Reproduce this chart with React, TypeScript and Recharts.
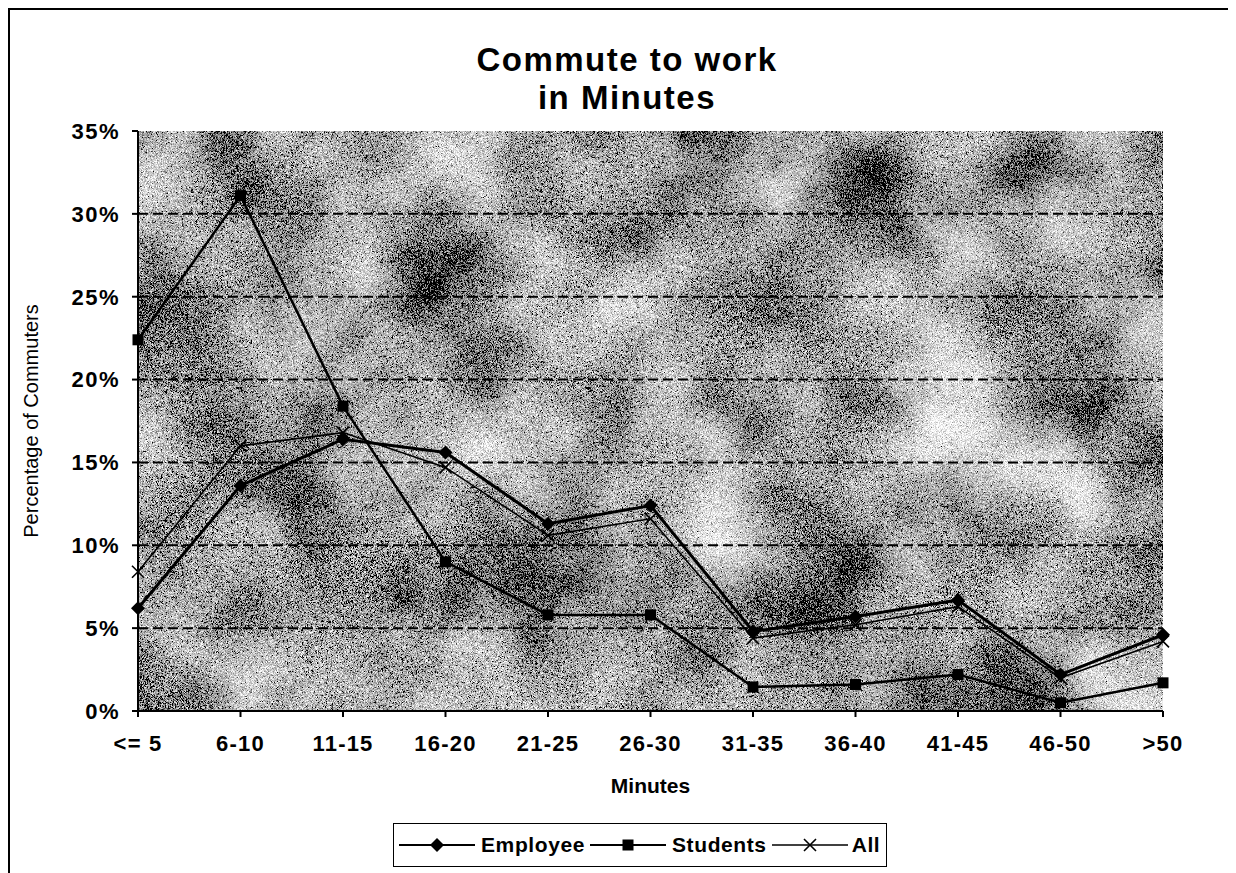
import { LineChart, Line, XAxis, YAxis, CartesianGrid } from 'recharts'

const ranges = ['<= 5', '6-10', '11-15', '16-20', '21-25', '26-30', '31-35', '36-40', '41-45', '46-50', '>50']
const employee = [6.2, 13.6, 16.4, 15.6, 11.3, 12.4, 4.8, 5.7, 6.7, 2.2, 4.6]
const students = [22.4, 31.1, 18.4, 9.0, 5.8, 5.8, 1.45, 1.6, 2.2, 0.5, 1.7]
const all = [8.4, 16.0, 16.8, 14.7, 10.6, 11.6, 4.4, 5.2, 6.3, 2.0, 4.2]
const yTicks = [0, 5, 10, 15, 20, 25, 30, 35]
const gridValues = [5, 10, 15, 20, 25, 30]

const data = ranges.map((range, i) => ({
  range,
  employee: employee[i],
  students: students[i],
  all: all[i],
}))

const font = '"Liberation Sans", Arial, sans-serif'
const W = 1220
const H = 865

const Diamond = ({ cx, cy, r = 7 }: { cx: number; cy: number; r?: number }) => (
  <path d={`M${cx},${cy - r}L${cx + r},${cy}L${cx},${cy + r}L${cx - r},${cy}Z`} fill="#000" />
)
const Square = ({ cx, cy, s = 11 }: { cx: number; cy: number; s?: number }) => (
  <rect x={cx - s / 2} y={cy - s / 2} width={s} height={s} fill="#000" />
)
const Cross = ({ cx, cy, r = 6 }: { cx: number; cy: number; r?: number }) => (
  <path d={`M${cx - r},${cy - r}L${cx + r},${cy + r}M${cx + r},${cy - r}L${cx - r},${cy + r}`} stroke="#000" strokeWidth={1.6} fill="none" />
)

function Sample({ kind }: { kind: 'd' | 's' | 'x' }) {
  return (
    <svg width={76} height={20} style={{ display: 'block' }}>
      <line x1={0} y1={10} x2={76} y2={10} stroke="#000" strokeWidth={kind === 'x' ? 1.5 : 2} />
      {kind === 'd' && <Diamond cx={38} cy={10} />}
      {kind === 's' && <Square cx={38} cy={10} />}
      {kind === 'x' && <Cross cx={38} cy={10} />}
    </svg>
  )
}

export default function App() {
  return (
    <div
      style={{
        position: 'relative',
        width: W,
        height: H,
        boxSizing: 'border-box',
        borderTop: '2px solid #000',
        borderLeft: '2px solid #000',
        fontFamily: font,
        background: '#fff',
      }}
    >
      <div
        style={{
          position: 'absolute',
          left: 317,
          top: 31,
          width: 600,
          textAlign: 'center',
          fontSize: 33,
          lineHeight: '38px',
          fontWeight: 'bold',
          letterSpacing: 1.5,
        }}
      >
        Commute to work
        <br />
        in Minutes
      </div>

      <LineChart width={W - 2} height={H - 2} data={data} margin={{ top: 121, right: 65, left: 0, bottom: 72 }}>
        <defs>
          {/* scanned-paper look: pixel grain over soft blotches */}
          <filter id="grain" x="0" y="0" width="100%" height="100%">
            <feTurbulence type="fractalNoise" baseFrequency="0.008" numOctaves={3} seed={7} result="mottle" />
            <feTurbulence type="fractalNoise" baseFrequency="2.2" numOctaves={1} seed={2} result="fine" />
            <feComposite in="mottle" in2="fine" operator="arithmetic" k1={0} k2={0.35} k3={0.65} k4={0} result="mix" />
            <feColorMatrix
              in="mix"
              type="matrix"
              values="3.6 0 0 0 -1.42  3.6 0 0 0 -1.42  3.6 0 0 0 -1.42  0 0 0 0 1"
            />
          </filter>
          <pattern id="texture" patternUnits="userSpaceOnUse" x={0} y={0} width={W} height={H}>
            <rect x={0} y={0} width={W} height={H} filter="url(#grain)" />
          </pattern>
        </defs>
        <CartesianGrid
          vertical={false}
          horizontalValues={gridValues}
          stroke="#000"
          strokeWidth={2}
          strokeDasharray="10 5"
          fill="url(#texture)"
          fillOpacity={1}
        />
        <XAxis
          dataKey="range"
          height={90}
          interval={0}
          stroke="#000"
          strokeWidth={2}
          tickSize={6}
          tickMargin={18}
          tick={{ fontSize: 22, fill: '#000', fontFamily: font, fontWeight: 'bold', letterSpacing: 1.2 }}
          label={{ value: 'Minutes', position: 'insideBottom', offset: 8, fontSize: 21, fontWeight: 'bold', fill: '#000', fontFamily: font }}
        />
        <YAxis
          width={128}
          domain={[0, 35]}
          ticks={yTicks}
          interval={0}
          stroke="#000"
          strokeWidth={2}
          tickSize={6}
          tickMargin={12}
          tickFormatter={(v) => `${v}%`}
          tick={{ fontSize: 22, fill: '#000', fontFamily: font, fontWeight: 'bold', letterSpacing: 1.5 }}
          label={{
            value: 'Percentage of Commuters',
            angle: -90,
            position: 'insideLeft',
            offset: 21,
            fontSize: 20,
            fill: '#000',
            fontFamily: font,
            style: { textAnchor: 'middle' },
          }}
        />
        <Line
          dataKey="all"
          stroke="#000"
          strokeWidth={1.6}
          isAnimationActive={false}
          dot={(p: any) => <Cross key={`a${p.index}`} cx={p.cx} cy={p.cy} />}
        />
        <Line
          dataKey="students"
          stroke="#000"
          strokeWidth={2.5}
          isAnimationActive={false}
          dot={(p: any) => <Square key={`s${p.index}`} cx={p.cx} cy={p.cy} />}
        />
        <Line
          dataKey="employee"
          stroke="#000"
          strokeWidth={3}
          isAnimationActive={false}
          dot={(p: any) => <Diamond key={`e${p.index}`} cx={p.cx} cy={p.cy} />}
        />
      </LineChart>

      <div
        style={{
          position: 'absolute',
          left: 383,
          top: 813,
          width: 494,
          height: 44,
          boxSizing: 'border-box',
          border: '1.5px solid #000',
          display: 'flex',
          alignItems: 'center',
          paddingLeft: 5,
          fontSize: 21,
          fontWeight: 'bold',
          letterSpacing: 0.6,
          background: '#fff',
        }}
      >
        <Sample kind="d" />
        <span style={{ margin: '0 5px 0 6px' }}>Employee</span>
        <Sample kind="s" />
        <span style={{ margin: '0 5px 0 6px' }}>Students</span>
        <Sample kind="x" />
        <span style={{ marginLeft: 4 }}>All</span>
      </div>
    </div>
  )
}
